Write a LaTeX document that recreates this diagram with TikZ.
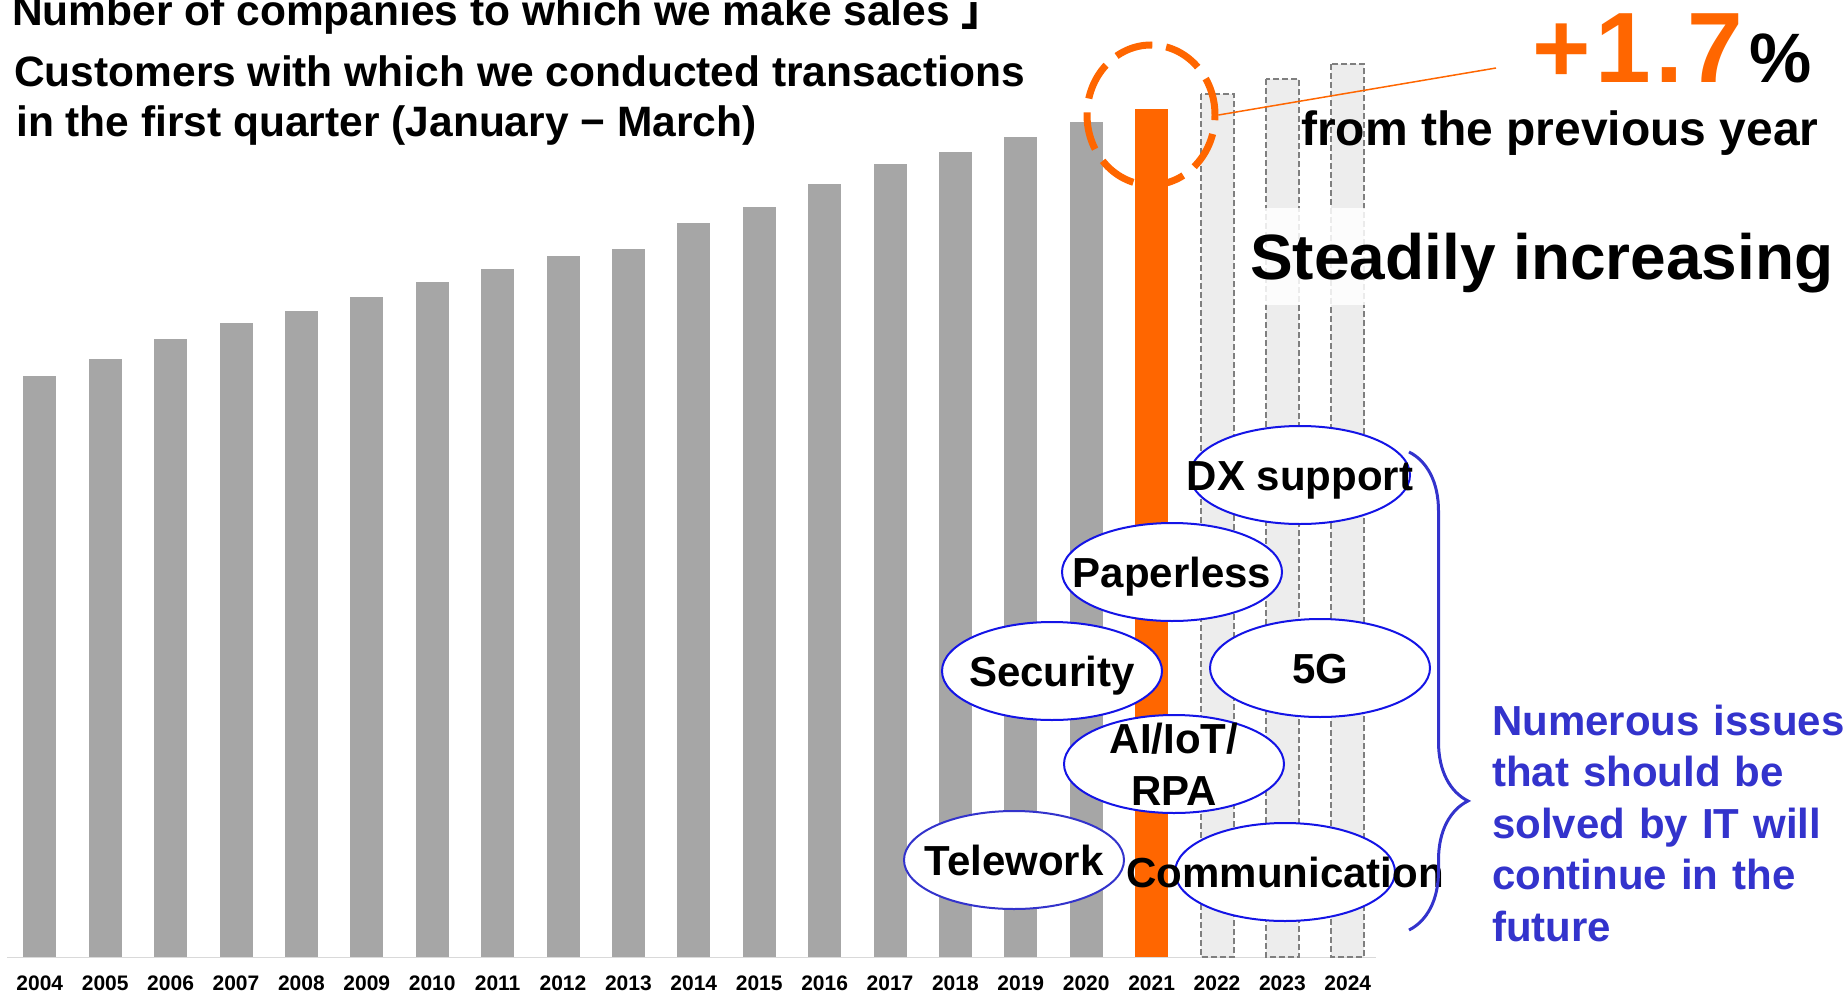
\documentclass[tikz,border=0pt]{standalone}
\usepackage{fontspec}
\setmainfont{Liberation Sans}
\newfontfamily\cjk{Noto Sans CJK JP}
\usetikzlibrary{shapes.geometric,decorations.pathreplacing}

\definecolor{barGray}{HTML}{A6A6A6}
\definecolor{barOrange}{HTML}{FF6600}
\definecolor{barLight}{HTML}{EDEDED}
\definecolor{dashGray}{HTML}{7F7F7F}
\definecolor{axisGray}{HTML}{D9D9D9}
\definecolor{ringBlue}{HTML}{1414E6}
\definecolor{issueBlue}{HTML}{3333CC}

\newcommand{\bsize}[1]{\fontsize{#1}{#1}\selectfont\bfseries}

\begin{document}
\begin{tikzpicture}[x=1pt,y=-1pt,
    futureBar/.style={fill=barLight,draw=dashGray,line width=2pt,dash pattern=on 6pt off 3pt},
    year/.style={anchor=base,inner sep=0,font=\bsize{21}},
    title/.style={anchor=base west,inner sep=0,font=\bsize{42.5}},
    issue/.style={ellipse,draw=ringBlue,line width=2pt,fill=white,inner sep=0,
        minimum width=220pt,minimum height=98pt},
    issueText/.style={inner sep=0,text height=30pt,text depth=0pt,font=\bsize{42}}]
    \useasboundingbox (0,0) rectangle (1845,1001);

    % axis
    \draw[axisGray,line width=1.5pt] (7,957.5) -- (1376,957.5);

    % bars 2004--2020
    \foreach \top [count=\i from 0] in {376,359,339,323,311,297,282,269,256,249,223,207,184,164,152,137,122}
        \fill[barGray] ({23.3+65.4*\i},\top) rectangle ({56.3+65.4*\i},957);
    % 2021
    \fill[barOrange] (1135,109) rectangle (1168,957);
    % 2022--2024
    \foreach \top [count=\i from 18] in {94,79,64}
        \draw[futureBar] ({23.3+65.4*\i},\top) rectangle ({56.3+65.4*\i},957);

    % years
    \foreach \i in {0,...,20} {
        \pgfmathtruncatemacro{\yr}{2004+\i}
        \node[year] (y\yr) at ({39.8+65.4*\i},990) {\yr};
    }

    % headings
    \node[title] (head) at (12,25) {Number of companies to which we make sales {\cjk 」}};
    \node[title] (sub) at (14,86) {Customers with which we conducted transactions};
    \node[title] (sub2) at (16,136) {in the first quarter (January − March)};

    % growth
    \fill[white,opacity=0.85] (1245,208) rectangle (1845,305);
    \node[anchor=base west,inner sep=0,font=\bsize{100}\addfontfeature{LetterSpace=4.5},text=barOrange] (rise) at (1532,82) {+1.7};
    \node[anchor=base west,inner sep=0,font=\bsize{70}] (pct) at (1749,82) {\%};
    \node[anchor=base west,inner sep=0,font=\bsize{48}] (prev) at (1301,145) {from the previous year};
    \node[anchor=base west,inner sep=0,font=\bsize{64}] (steady) at (1250,279) {Steadily increasing};

    \node[ellipse,draw=barOrange,line width=7pt,dash pattern=on 38pt off 14pt,inner sep=0,
        minimum width=128pt,minimum height=140pt] (ring) at (1151,115) {};
    \coordinate (lead) at (1496,68);
    \draw[barOrange,line width=1.5pt] (ring.east) -- (lead);

    % issues
    \node[issue] (dx) at (1300,475) {};
    \node[issueText] (dxT) at (dx) {DX support};
    \node[issue] (paper) at (1172,572) {};
    \node[issueText] (paperT) at (paper) {Paperless};
    \node[issue] (sec) at (1052,671) {};
    \node[issueText] (secT) at (sec) {Security};
    \node[issue] (fiveg) at (1320,668) {};
    \node[issueText] (fivegT) at (fiveg) {5G};
    \node[issue] (ai) at (1174,764) {};
    \node[inner sep=0,align=center,font={\fontsize{42}{52}\selectfont\bfseries}] (aiT) at (ai) {AI/IoT/\\RPA};
    \node[issue,draw=issueBlue] (tele) at (1014,860) {};
    \node[issueText] (teleT) at (tele) {Telework};
    \node[issue] (comm) at (1285,872) {};
    \node[issueText] (commT) at (comm) {Communication};

    \coordinate (braceTop) at (1409,452);
    \coordinate (braceBot) at (1409,930);
    \draw[issueBlue,line width=3pt,decorate,decoration={brace,amplitude=59pt,aspect=0.73}] (braceTop) -- (braceBot);

    \node[anchor=base west,inner sep=0,text width=360pt,align=left,text=issueBlue,
        font={\fontsize{42}{51.5}\selectfont\bfseries}] (issues) at (1492,735)
        {Numerous issues\\ that should be\\ solved by IT will\\ continue in the\\ future};
\end{tikzpicture}
\end{document}
